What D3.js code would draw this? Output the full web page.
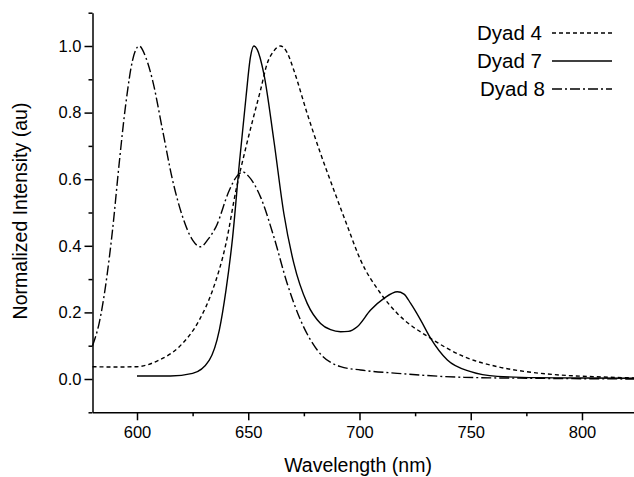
<!DOCTYPE html>
<html>
<head>
<meta charset="utf-8">
<script src="https://cdn.jsdelivr.net/npm/d3@7"></script>
<style>
  body { margin: 0; background: #fff; }
  svg { display: block; font-family: "Liberation Sans", Arial, sans-serif; }
</style>
</head>
<body>
<svg id="chart"></svg>
<script>
// wavelength (nm) / normalized intensity
const dyad4Wl = [580, 590, 600, 610, 619, 628, 634, 640, 644.5, 649, 652, 655.5, 658.5, 661.5, 664.5, 667.5, 670.5, 676.5, 682.5, 688.5, 694.5, 700.5, 709.5, 717, 732, 747, 762, 775, 790, 805, 825];
const dyad4Int = [0.037, 0.036, 0.037, 0.057, 0.097, 0.177, 0.267, 0.407, 0.567, 0.697, 0.777, 0.867, 0.947, 0.985, 1.0, 0.98, 0.927, 0.797, 0.677, 0.567, 0.46, 0.357, 0.257, 0.197, 0.122, 0.067, 0.037, 0.022, 0.012, 0.007, 0.003];

const dyad7Wl = [600, 615, 625, 632.5, 637, 640, 643, 646, 649, 651, 652.5, 654, 657, 661.5, 666, 670.5, 676.5, 682.5, 687, 691.5, 695, 699, 705, 711, 717, 720, 723, 727.5, 732, 739.5, 750, 762, 780, 800, 825];
const dyad7Int = [0.009, 0.009, 0.017, 0.057, 0.147, 0.267, 0.427, 0.647, 0.847, 0.967, 1.0, 0.99, 0.917, 0.717, 0.497, 0.347, 0.227, 0.167, 0.148, 0.142, 0.143, 0.157, 0.207, 0.242, 0.262, 0.255, 0.227, 0.177, 0.122, 0.057, 0.022, 0.008, 0.004, 0.003, 0.002];

const dyad8Wl = [580, 583, 589, 592, 595, 598, 601, 604, 607, 611.5, 616, 620.5, 625, 628.5, 632, 635.5, 641.5, 645, 647.5, 650, 655.5, 661.5, 667.5, 673.5, 681, 691.5, 700.5, 717, 747, 780, 825];
const dyad8Int = [0.1, 0.168, 0.447, 0.648, 0.828, 0.957, 1.0, 0.965, 0.897, 0.747, 0.597, 0.487, 0.417, 0.397, 0.42, 0.457, 0.567, 0.61, 0.622, 0.61, 0.547, 0.427, 0.287, 0.177, 0.087, 0.037, 0.027, 0.017, 0.005, 0.002, 0.0];

const seriesNames = ["Dyad 4", "Dyad 7", "Dyad 8"];
const xMajorTicks = [600, 650, 700, 750, 800];
const xMinorTicks = [625, 675, 725, 775];
const yMajorTicks = [0.0, 0.2, 0.4, 0.6, 0.8, 1.0];
const yMinorTicks = [-0.1, 0.1, 0.3, 0.5, 0.7, 0.9, 1.1];

// layout
const width = 634, height = 477;
const dashes = ["4,3", null, "10,3,2,3"];

const svg = d3.select("#chart")
    .attr("width", width)
    .attr("height", height);

const x = d3.scaleLinear()
    .domain([580, 825])
    .range([92.5, 637.6]);

const y = d3.scaleLinear()
    .domain([-0.1, 1.1])
    .range([412.3, 12.7]);

// x axis
svg.append("g")
    .attr("transform", "translate(0," + y(-0.1) + ")")
    .call(d3.axisBottom(x).tickValues(xMajorTicks).tickSize(8).tickPadding(6).tickSizeOuter(0))
    .call(g => g.selectAll("text").style("font-size", "16.5px").attr("fill", "#000"));
svg.append("g")
    .attr("transform", "translate(0," + y(-0.1) + ")")
    .call(d3.axisBottom(x).tickValues(xMinorTicks).tickSize(4).tickFormat("").tickSizeOuter(0))
    .call(g => g.select(".domain").remove());

// y axis
svg.append("g")
    .attr("transform", "translate(" + x(580) + ",0)")
    .call(d3.axisLeft(y).tickValues(yMajorTicks).tickFormat(d3.format(".1f")).tickSize(8).tickPadding(3).tickSizeOuter(0))
    .call(g => g.selectAll("text").style("font-size", "16.5px").attr("fill", "#000"));
svg.append("g")
    .attr("transform", "translate(" + x(580) + ",0)")
    .call(d3.axisLeft(y).tickValues(yMinorTicks).tickSize(4).tickFormat("").tickSizeOuter(0))
    .call(g => g.select(".domain").remove());

svg.selectAll(".domain, .tick line")
    .attr("stroke", "#000")
    .attr("stroke-width", 1.5);

// axis titles
svg.append("text")
    .attr("x", 358)
    .attr("y", 472)
    .attr("text-anchor", "middle")
    .style("font-size", "19.5px")
    .text("Wavelength (nm)");

svg.append("text")
    .attr("transform", "translate(27," + 211 + ")rotate(-90)")
    .attr("text-anchor", "middle")
    .style("font-size", "19.5px")
    .text("Normalized Intensity (au)");

// lines
const series = [
    {wl: dyad4Wl, val: dyad4Int},
    {wl: dyad7Wl, val: dyad7Int},
    {wl: dyad8Wl, val: dyad8Int}
];

const line = d3.line()
    .x(d => x(d[0]))
    .y(d => y(d[1]))
    .curve(d3.curveMonotoneX);

series.forEach(function(s, i) {
    svg.append("path")
        .datum(d3.zip(s.wl, s.val))
        .attr("fill", "none")
        .attr("stroke", "#000")
        .attr("stroke-width", 1.4)
        .attr("stroke-dasharray", dashes[i])
        .attr("d", line);
});

// legend
const legend = svg.append("g");
seriesNames.forEach(function(name, i) {
    const ly = 33 + i * 28;
    legend.append("text")
        .attr("x", i === 2 ? 480 : 477)
        .attr("y", ly + 7)
        .style("font-size", "20.5px")
        .text(name);
    legend.append("line")
        .attr("x1", 552)
        .attr("x2", 612)
        .attr("y1", ly)
        .attr("y2", ly)
        .attr("stroke", "#000")
        .attr("stroke-width", 1.4)
        .attr("stroke-dasharray", dashes[i]);
});
</script>
</body>
</html>
